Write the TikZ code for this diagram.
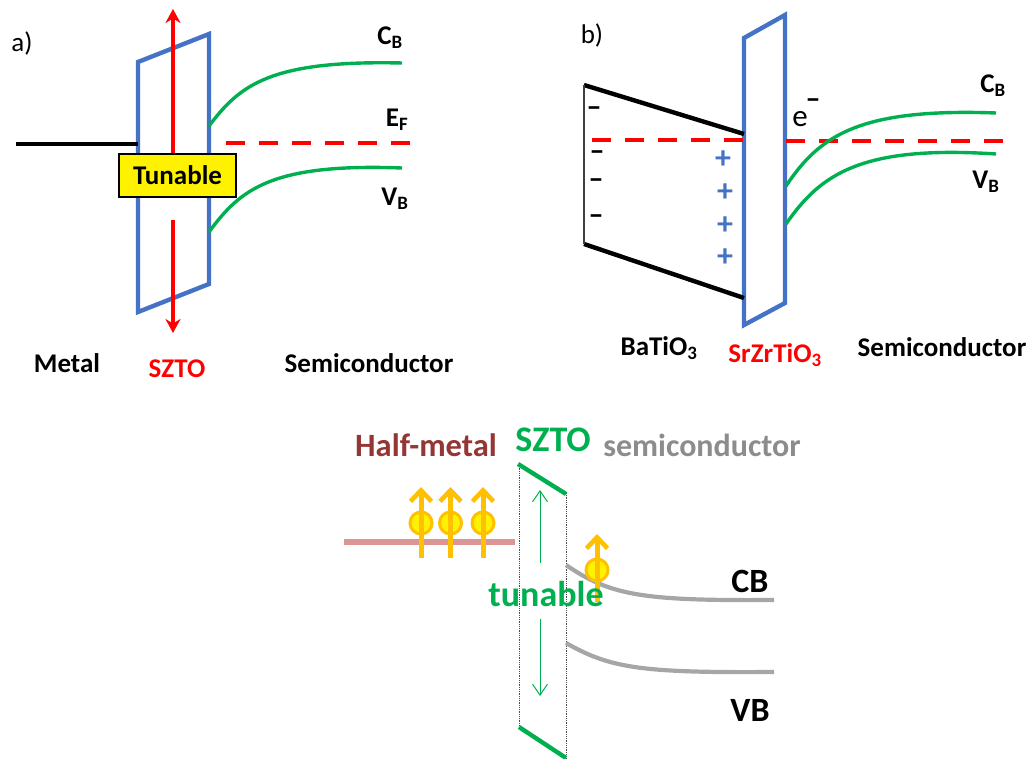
\documentclass[tikz,border=0pt]{standalone}
\usepackage{fontspec}
\setmainfont{Carlito}
\usetikzlibrary{arrows.meta}
\definecolor{cblue}{HTML}{4472C4}
\definecolor{cgreen}{HTML}{00B050}
\definecolor{cgold}{HTML}{FFC000}
\definecolor{cbrown}{HTML}{943634}
\definecolor{cpink}{HTML}{D99694}
\definecolor{cgray}{HTML}{A6A6A6}
\definecolor{ctext}{HTML}{8C8C8C}
\tikzset{
  lab/.style={inner sep=0pt,font=\fontsize{#1}{#1}\selectfont\bfseries},
  lab/.default=27,
  thin lab/.style={inner sep=0pt,font=\fontsize{#1}{#1}\selectfont},
  barrier/.style={draw=cblue,line width=4.4pt},
  band/.style={draw=cgreen,line width=3.4pt},
  fermi/.style={draw=red,line width=4.4pt,dash pattern=on 19pt off 14pt},
  level/.style={draw=black,line width=4.4pt},
  redarrow/.style={draw=red,line width=4pt,-{Stealth[length=14pt,width=15pt]}},
  grayband/.style={draw=cgray,line width=4.2pt},
  wall/.style={draw=black!70,line width=.8pt,densely dotted},
  szcap/.style={draw=cgreen,line width=4.4pt},
  tunearrow/.style={draw=cgreen,line width=1pt,-{Straight Barb[length=11pt,width=15pt]}},
  spinarrow/.style={draw=cgold,line width=5pt,-{Straight Barb[length=11pt,width=21pt,line width=4.6pt]}},
  spindot/.style={circle,draw=cgold,fill=yellow,line width=3pt,minimum size=22pt,inner sep=0pt},
  minus/.style={inner sep=0pt,font=\fontsize{30}{30}\selectfont\bfseries},
  plus/.style={inner sep=0pt,text=cblue,font=\fontsize{32}{32}\selectfont\bfseries},
}
\begin{document}
\begin{tikzpicture}[x=1pt,y=-1pt]
\useasboundingbox (0,0) rectangle (1029,759);

%% panel a
\node[thin lab=27] (la) at (22,44) {a)};
\draw[barrier] (138,62) -- (209,34) -- (209,284) -- (138,312) -- cycle;
\coordinate (metalL) at (16,144);
\coordinate (metalR) at (138,144);
\draw[level] (metalL) -- (metalR);
\draw[fermi] (226,143) -- (410,143);
\draw[band] (209,126) .. controls (240,85) and (270,60) .. (402,63);
\draw[band] (209,232) .. controls (240,190) and (270,163) .. (402,168);
\coordinate (upA) at (173,153);
\coordinate (upB) at (173,9);
\coordinate (dnA) at (173,220);
\coordinate (dnB) at (173,333);
\draw[redarrow] (upA) -- (upB);
\draw[redarrow] (dnA) -- (dnB);
\node[draw=black,fill=yellow,line width=1.2pt,minimum width=117pt,minimum height=43pt,inner sep=0pt,lab=27] (tun) at (177.5,175.5) {Tunable};
\node[lab=27] (cba) at (390,38) {C\textsubscript{B}};
\node[lab=27] (efa) at (397,120) {E\textsubscript{F}};
\node[lab=27] (vba) at (395,199) {V\textsubscript{B}};
\node[lab=27] (metal) at (67,363) {Metal};
\node[lab=27,text=red] (szto) at (177,369) {SZTO};
\node[lab=27] (semia) at (369,363) {Semiconductor};

%% panel b
\node[thin lab=27] (lb) at (592,36) {b)};
\draw[barrier] (744,38) -- (785,15) -- (785,303) -- (744,325) -- cycle;
\draw[level] (584,85) -- (744,134);
\draw[level] (584,244) -- (744,298);
\draw[draw=black!75,line width=1.4pt] (584,85) -- (584,244);
\draw[fermi] (592,140) -- (744,140);
\draw[fermi] (786,141) -- (1004,141);
\draw[band] (786,186) .. controls (820,135) and (860,108) .. (996,113);
\draw[band] (786,224) .. controls (820,175) and (860,145) .. (996,154);
\node[minus] (m1) at (594,112) {--};
\node[minus] (m2) at (597,156) {--};
\node[minus] (m3) at (596,184) {--};
\node[minus] (m4) at (596,220) {--};
\node[plus] (p1) at (723,160) {+};
\node[plus] (p2) at (725,193) {+};
\node[plus] (p3) at (725,226) {+};
\node[plus] (p4) at (725,258) {+};
\node[thin lab=31] (em) at (800,119) {e};
\node[minus] (m5) at (813,104) {--};
\node[lab=27] (cbb) at (993,86) {C\textsubscript{B}};
\node[lab=27] (vbb) at (986,182) {V\textsubscript{B}};
\node[lab=27] (bto) at (659,348) {BaTiO\textsubscript{3}};
\node[lab=27,text=red] (szt) at (775,355) {SrZrTiO\textsubscript{3}};
\node[lab=27] (semib) at (942,347) {Semiconductor};

%% panel c
\node[lab=32.5,text=cbrown] (hm) at (426,445) {Half-metal};
\node[lab=36,text=cgreen] (szc) at (553,440) {SZTO};
\node[lab=32,text=ctext] (semc) at (702,445) {semiconductor};
\draw[draw=cpink,line width=5.6pt] (344,542) -- (515,542);
\draw[wall] (519,464) -- (519,727);
\draw[wall] (566,493) -- (566,758);
\draw[szcap] (518,464) -- (566,494);
\draw[szcap] (519,727) -- (566,758);
\draw[grayband] (566,565) .. controls (610,595) and (640,601) .. (774,600);
\draw[grayband] (566,643) .. controls (610,668) and (640,673) .. (774,672);
\coordinate (ta1) at (540,563); \coordinate (ta2) at (540,490);
\coordinate (tb1) at (540,619); \coordinate (tb2) at (540,696);
\draw[tunearrow] (ta1) -- (ta2);
\draw[tunearrow] (tb1) -- (tb2);
\foreach \n/\x in {a/421,b/450.5,c/483}{
  \node[spindot] (d\n) at (\x,523) {};
  \coordinate (s\n) at (\x,558);
  \coordinate (t\n) at (\x,487);
  \draw[spinarrow] (s\n) -- (t\n);
}
\node[spindot] (dd) at (597,570) {};
\coordinate (sd) at (597,602);
\coordinate (td) at (597,534);
\draw[spinarrow] (sd) -- (td);
\node[lab=36,text=cgreen] (tunc) at (546,594) {tunable};
\node[lab=34] (cb) at (750,581) {CB};
\node[lab=34] (vb) at (750,710) {VB};
\end{tikzpicture}
\end{document}
